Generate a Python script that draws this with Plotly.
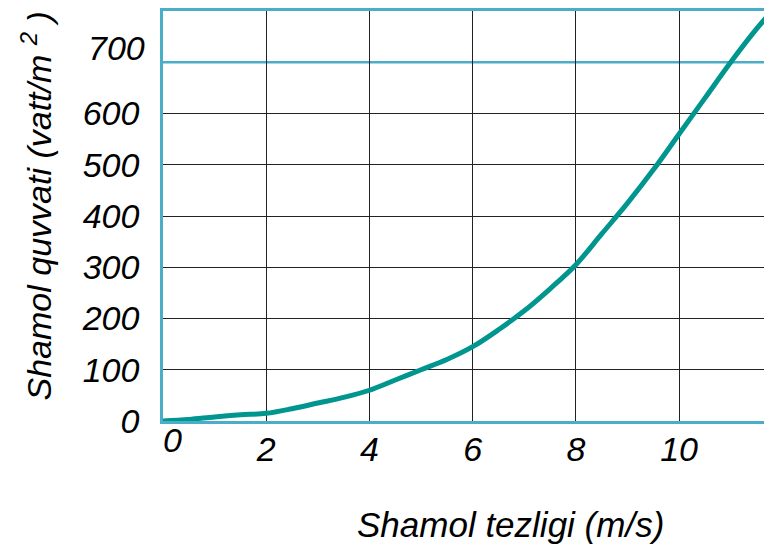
import plotly.graph_objects as go

# Data
wind_speed = [0, 0.5, 1, 1.5, 2, 2.5, 3, 3.5, 4, 4.5, 5, 5.5, 6, 6.5, 7, 7.5, 8, 8.5, 9, 9.5, 10, 10.5, 11, 11.5, 11.8]
wind_power = [0, 3, 8, 12, 15, 24, 35, 46, 60, 80, 100, 120, 145, 178, 215, 258, 305, 365, 425, 490, 560, 630, 700, 765, 800]

x_ticks = [2, 4, 6, 8, 10]
y_ticks = [0, 100, 200, 300, 400, 500, 600]
y_highlight = 700
x_range = [0, 11.8]
y_range = [0, 800]

x_title = "Shamol tezligi (m/s)"
y_title = "Shamol quvvati (vatt/m <sup>2</sup> )"

TEAL_AXIS = "#4aaec8"
CURVE = "#00968f"
FONT = "Liberation Sans, Arial, sans-serif"

fig = go.Figure()
fig.add_trace(go.Scatter(x=wind_speed, y=wind_power, mode="lines",
                         line=dict(color=CURVE, width=5, shape="spline"),
                         showlegend=False, hoverinfo="skip"))

# page body has an 8px margin, so the figure is sized/offset to compensate
fig.update_layout(
    width=764, height=540,
    margin=dict(l=155, r=0, t=1, b=127),
    paper_bgcolor="white", plot_bgcolor="white",
    font=dict(family=FONT, size=34, color="black", style="italic"),
    xaxis=dict(range=x_range, tickvals=x_ticks, showgrid=True, gridcolor="#222",
               gridwidth=1.3, zeroline=False, showline=True, linecolor=TEAL_AXIS,
               linewidth=2.5, mirror=True, ticks="", ticklabelstandoff=-4,
               tickfont=dict(size=34, style="italic")),
    yaxis=dict(range=y_range, tickvals=y_ticks, showgrid=True, gridcolor="#222",
               gridwidth=1.3, zeroline=False, showline=True, linecolor=TEAL_AXIS,
               linewidth=2.5, mirror=False, ticks="", ticklabelstandoff=14,
               tickfont=dict(size=34, style="italic")),
)

fig.add_shape(type="line", xref="paper", x0=0, x1=1, yref="y", y0=y_highlight, y1=y_highlight,
              line=dict(color=TEAL_AXIS, width=2.5), layer="below")

fig.add_annotation(x=-0.026, xanchor="right", xref="paper", y=y_highlight, yref="y",
                   yshift=14, text=str(y_highlight), showarrow=False,
                   font=dict(size=34, style="italic"))
fig.add_annotation(x=x_range[0], xref="x", xshift=9, y=0, yref="paper", yshift=-19,
                   yanchor="middle", text="0", showarrow=False,
                   font=dict(size=34, style="italic"))

fig.add_annotation(x=0.570, y=-0.252, xref="paper", yref="paper", text=x_title,
                   showarrow=False, xanchor="center", yanchor="middle",
                   font=dict(size=35, style="italic"))
fig.add_annotation(x=-0.208, y=0.524, xref="paper", yref="paper", text=y_title,
                   showarrow=False, textangle=-90, xanchor="center", yanchor="middle",
                   font=dict(size=34, style="italic"))

fig.write_html("out.html")
